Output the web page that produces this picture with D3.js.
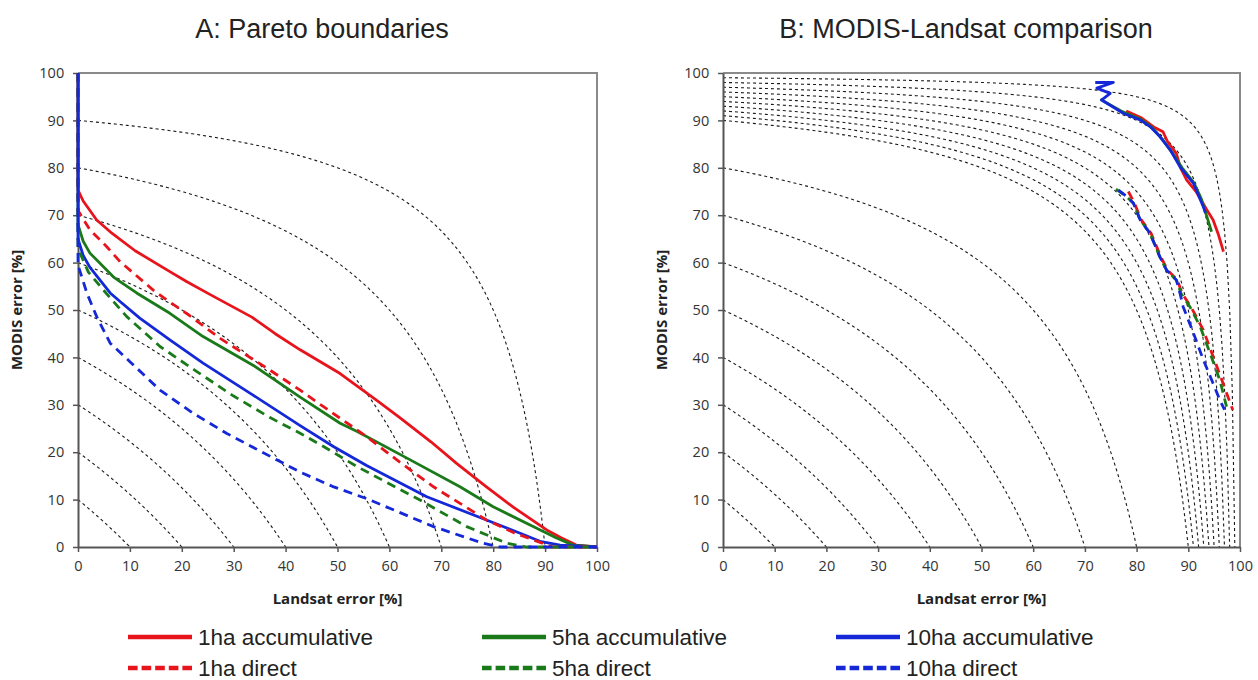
<!DOCTYPE html>
<html><head><meta charset="utf-8">
<script src="https://cdn.jsdelivr.net/npm/d3@7"></script>
<style>body{margin:0;background:#fff}svg{display:block}</style>
</head><body>
<svg id="chart" width="1258" height="680"></svg>
<script>
// ---- data ----
const ticks = [0,10,20,30,40,50,60,70,80,90,100];
const contoursA = [10,20,30,40,50,60,70,80,90];
const contoursB = [10,20,30,40,50,60,70,80,90,91,92,93,94,95,96,97,98,99];

const seriesNames = ["1ha accumulative","5ha accumulative","10ha accumulative","1ha direct","5ha direct","10ha direct"];
const seriesColors = ["#e8141c","#1a7a1a","#1428d8","#e8141c","#1a7a1a","#1428d8"];
const seriesDashed = [false,false,false,true,true,true];

// Panel A: Pareto boundaries [Landsat error, MODIS error]
const a1haAcc = [[0,100],[0,75.3],[1,73],[3.6,69],[6.2,66.5],[11,62.5],[17.7,58.1],[20.9,56],[25.4,53.3],[33.5,48.5],[38,45],[42.8,41.6],[50.5,36.6],[57.5,31],[62,27.3],[68,22.2],[73,17.6],[78.7,12.7],[84,8.3],[90.3,3.6],[93,2],[96,0.4],[100,0]];
const a5haAcc = [[0,100],[0,68],[1,64.5],[2.3,62],[6.8,57],[8.1,56],[11.3,53.6],[17.7,49.3],[24.1,44.4],[33.8,38.3],[42.8,31.6],[50.5,26.1],[53.7,24.4],[63.3,18.8],[73.6,12.7],[80,8.5],[87.7,4.3],[92,2],[95.4,0.4],[100,0]];
const a10haAcc = [[0,100],[0,65],[1,61.5],[2.3,59],[6.2,53.6],[8.1,51.8],[11.9,48.3],[17.7,43.7],[24.1,38.8],[33.8,32],[42.8,25.6],[49.2,21.2],[55.6,17.2],[67.2,10.6],[78.7,5.7],[85.2,2.9],[89,1.2],[92.9,0.4],[100,0]];
const a1haDir = [[0,100],[0,71],[2.3,66.9],[5.5,63.4],[8.1,60.2],[14.5,54.2],[17.1,52.1],[20.9,49.3],[27.4,44],[37,37.3],[42.8,33.1],[47.3,29.6],[55.6,23.3],[62,17.9],[68.5,12.7],[78.7,5.7],[84,3],[87.7,1.5],[91.5,0],[100,0]];
const a5haDir = [[0,100],[0,63],[2,58],[4.9,54.2],[9.4,48.6],[15.8,42.3],[22.9,37],[29.9,31.9],[37,27.3],[42.8,24],[47.3,21.2],[53.7,17],[65.9,9.9],[74.9,4.3],[82.6,0.8],[86.4,0],[100,0]];
const a10haDir = [[0,100],[0,59.5],[1.7,53.6],[3.6,48.6],[6.2,43],[10,39.1],[15.8,33.1],[22.2,28.2],[28.6,24],[35,20.3],[42.8,15.8],[49,12.8],[55.6,10.2],[68.5,4.3],[78,0.8],[81.3,0],[100,0]];

// Panel B: MODIS-Landsat comparison
const b1haAcc = [[78,92],[81,90.5],[83.5,88.5],[85.1,87.6],[86,85.5],[87.7,83],[88.5,80],[89.7,77.4],[91.5,75],[93.6,71.1],[94.8,69],[95.8,66],[96.8,62.3]];
const b5haAcc = [[73,94.5],[74.5,93.5],[77,92],[80.7,90.3],[83,88.5],[85,86],[87,83],[88.8,80],[91,77],[92.5,73.5],[93.5,70],[94.5,66.5]];
const b10haAcc = [[72,98],[75.5,98],[72.3,96.8],[74.9,95.7],[73.2,94.3],[74.9,93.2],[77.4,91.5],[80.7,90.1],[82.6,88.7],[84.5,86.6],[86.5,83.8],[88.4,80.2],[91,76.7],[92.9,71.8],[93.3,70.5]];
const b1haDir = [[78.4,75],[79.6,72.5],[80.9,69],[82.8,66.2],[84.7,61.2],[86,58.4],[87.9,56.3],[88.8,53.5],[90.5,50.7],[92.9,45.8],[94.8,40.2],[96.7,34.6],[98.6,28.9]];
const b5haDir = [[76,75.5],[78,74],[79.4,72.5],[80.7,69],[82.6,66.2],[84.5,61.2],[85.8,58.4],[87.7,56.3],[88.6,53.5],[90.3,50.7],[92.3,46.5],[94.2,40.9],[96.1,35.2],[97.4,29.6]];
const b10haDir = [[76.5,75.3],[78,74],[79.4,72.5],[80.7,69],[82.6,66.2],[84.5,61.2],[85.8,58.4],[87.7,56.3],[88.4,53.5],[89,50.7],[91,45.1],[92.9,39.5],[94.8,34.5],[96.1,31],[97,29]];

const panelA = [a1haAcc,a5haAcc,a10haAcc,a1haDir,a5haDir,a10haDir];
const panelB = [b1haAcc,b5haAcc,b10haAcc,b1haDir,b5haDir,b10haDir];

// ---- drawing ----
const svg = d3.select("#chart");
const font = "'Liberation Sans', Arial, sans-serif";
const tickFont = "'Open Sans', 'Liberation Sans', sans-serif";

function panel(opts){
  const x = d3.scaleLinear().domain([0,100]).range([opts.x0, opts.x1]);
  const y = d3.scaleLinear().domain([0,100]).range([547, 73]);
  const g = svg.append("g");
  g.append("text").attr("x",opts.tx).attr("y",38)
    .attr("text-anchor","middle").attr("font-family",font).attr("font-size",27)
    .attr("fill","#222").text(opts.title);
  g.append("path").attr("d",`M${x(0)},${y(100)}H${x(100)}V${y(0)}`)
    .attr("fill","none").attr("stroke","#8a8a8a").attr("stroke-width",2);
  const cg = g.append("g");
  opts.contours.forEach(e=>{
    const pts = d3.range(0,201).map(i=>{
      const xv = e*i/200;
      return [xv, Math.max(0, 100 - 100*(100-e)/(100-xv))];
    });
    cg.append("path").attr("d", d3.line().x(d=>x(d[0])).y(d=>y(d[1]))(pts))
      .attr("fill","none").attr("stroke","#1a1a1a").attr("stroke-width",1.1)
      .attr("stroke-dasharray","3,3");
  });
  const xa = g.append("g").attr("transform",`translate(0,${y(0)})`)
    .call(d3.axisBottom(x).tickValues(ticks).tickSize(5).tickSizeOuter(0));
  const ya = g.append("g").attr("transform",`translate(${x(0)},0)`)
    .call(d3.axisLeft(y).tickValues(ticks).tickSize(5).tickSizeOuter(0));
  [xa,ya].forEach(a=>{
    a.select(".domain").attr("stroke","#555").attr("stroke-width",2);
    a.selectAll(".tick line").attr("stroke","#555").attr("stroke-width",1.5);
    a.selectAll("text").attr("font-family",tickFont).attr("font-size",14.5).attr("fill","#333");
  });
  xa.selectAll("text").attr("dy","1.1em");
  ya.selectAll("text").attr("dx","-0.4em");
  g.append("text").attr("x",(opts.x0+opts.x1)/2).attr("y",604).attr("text-anchor","middle")
    .attr("font-family",tickFont).attr("font-weight","bold").attr("font-size",15).attr("fill","#222")
    .text("Landsat error [%]");
  g.append("text").attr("transform",`translate(${opts.x0-56},${(y(0)+y(100))/2}) rotate(-90)`)
    .attr("text-anchor","middle").attr("font-family",tickFont).attr("font-weight","bold")
    .attr("font-size",15).attr("fill","#222").text("MODIS error [%]");
  const line = d3.line().x(d=>x(d[0])).y(d=>y(d[1]));
  opts.data.forEach((s,i)=>{
    g.append("path").attr("d",line(s)).attr("fill","none")
      .attr("stroke",seriesColors[i]).attr("stroke-width",2.8)
      .attr("stroke-linejoin","round")
      .attr("stroke-dasharray",seriesDashed[i]?"9,6":null);
  });
}

panel({x0:78,x1:597,tx:322,title:"A: Pareto boundaries",contours:contoursA,data:panelA});
panel({x0:723,x1:1240,tx:966,title:"B: MODIS-Landsat comparison",contours:contoursB,data:panelB});

// legend
const lx = [128,482,836];
seriesNames.forEach((n,i)=>{
  const col = i%3, row = i<3?0:1;
  const yy = row===0?637:668;
  const lg = svg.append("g");
  lg.append("line").attr("x1",lx[col]).attr("x2",lx[col]+64).attr("y1",yy).attr("y2",yy)
    .attr("stroke",seriesColors[i]).attr("stroke-width",4.5)
    .attr("stroke-dasharray",seriesDashed[i]?"9.6,4":null);
  lg.append("text").attr("x",lx[col]+70).attr("y",yy+8).attr("font-family",font)
    .attr("font-size",22.5).attr("fill","#222").text(n);
});
</script>
</body></html>
